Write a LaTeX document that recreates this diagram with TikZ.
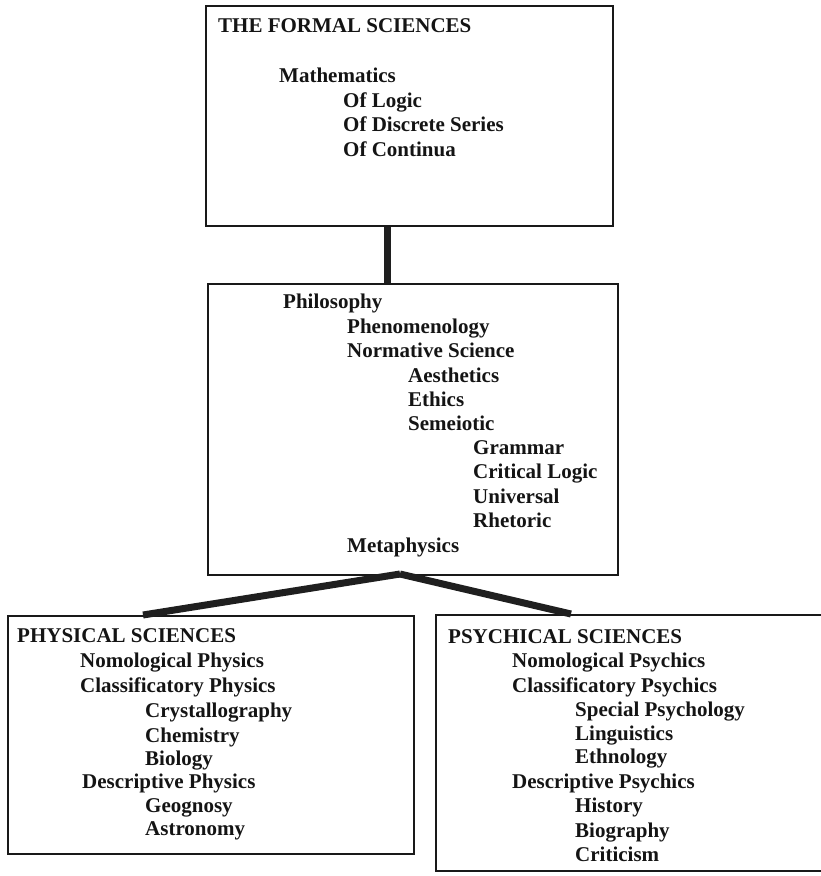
\documentclass[tikz,border=0pt]{standalone}
\usepackage{fontspec}
\setmainfont{Liberation Serif}
\usetikzlibrary{calc}
\begin{document}
\begin{tikzpicture}[x=1pt,y=-1pt,
  box/.style={draw=black!90, line width=2.2pt, inner sep=0pt, anchor=north west},
  lbl/.style={anchor=base west, inner sep=0pt, text=black!92,
    font=\fontsize{21}{24}\selectfont\bfseries},
  conn/.style={draw=black!88, line width=7pt}]
\useasboundingbox (0,0) rectangle (821,876);
% boxes
\node[box, minimum width=407pt, minimum height=220pt] (formal) at (205,5) {};
\node[box, minimum width=410pt, minimum height=291pt] (philo) at (207,283) {};
\node[box, minimum width=406pt, minimum height=238pt] (phys) at (7,615) {};
\node[box, minimum width=400pt, minimum height=256pt] (psych) at (435,614) {};
% connectors
\coordinate (vx) at (387,0);
\draw[conn] (formal.south -| vx) -- (philo.north -| vx);
\coordinate (fan) at (400,574);
\draw[conn] (fan) -- ($(phys.north west)+(136,0)$);
\draw[conn] (fan) -- ($(psych.north west)+(136,0)$);
% formal sciences
\node[lbl] (t1) at (218,32) {THE FORMAL SCIENCES};
\node[lbl] (t2) at (279,82) {Mathematics};
\node[lbl] (t3) at (343,107) {Of Logic};
\node[lbl] (t4) at (343,131) {Of Discrete Series};
\node[lbl] (t5) at (343,156) {Of Continua};
% philosophy
\node[lbl] (p1) at (283,308) {Philosophy};
\node[lbl] (p2) at (347,333) {Phenomenology};
\node[lbl] (p3) at (347,357) {Normative Science};
\node[lbl] (p4) at (408,382) {Aesthetics};
\node[lbl] (p5) at (408,406) {Ethics};
\node[lbl] (p6) at (408,430) {Semeiotic};
\node[lbl] (p7) at (473,454) {Grammar};
\node[lbl] (p8) at (473,478) {Critical Logic};
\node[lbl] (p9) at (473,503) {Universal};
\node[lbl] (p10) at (473,527) {Rhetoric};
\node[lbl] (p11) at (347,552) {Metaphysics};
% physical
\node[lbl] (f1) at (17,642) {PHYSICAL SCIENCES};
\node[lbl] (f2) at (80,667) {Nomological Physics};
\node[lbl] (f3) at (80,692) {Classificatory Physics};
\node[lbl] (f4) at (145,717) {Crystallography};
\node[lbl] (f5) at (145,742) {Chemistry};
\node[lbl] (f6) at (145,765) {Biology};
\node[lbl] (f7) at (82,788) {Descriptive Physics};
\node[lbl] (f8) at (145,812) {Geognosy};
\node[lbl] (f9) at (145,835) {Astronomy};
% psychical
\node[lbl] (s1) at (448,643) {PSYCHICAL SCIENCES};
\node[lbl] (s2) at (512,667) {Nomological Psychics};
\node[lbl] (s3) at (512,692) {Classificatory Psychics};
\node[lbl] (s4) at (575,716) {Special Psychology};
\node[lbl] (s5) at (575,740) {Linguistics};
\node[lbl] (s6) at (575,763) {Ethnology};
\node[lbl] (s7) at (512,788) {Descriptive Psychics};
\node[lbl] (s8) at (575,812) {History};
\node[lbl] (s9) at (575,837) {Biography};
\node[lbl] (s10) at (575,861) {Criticism};
\end{tikzpicture}
\end{document}
